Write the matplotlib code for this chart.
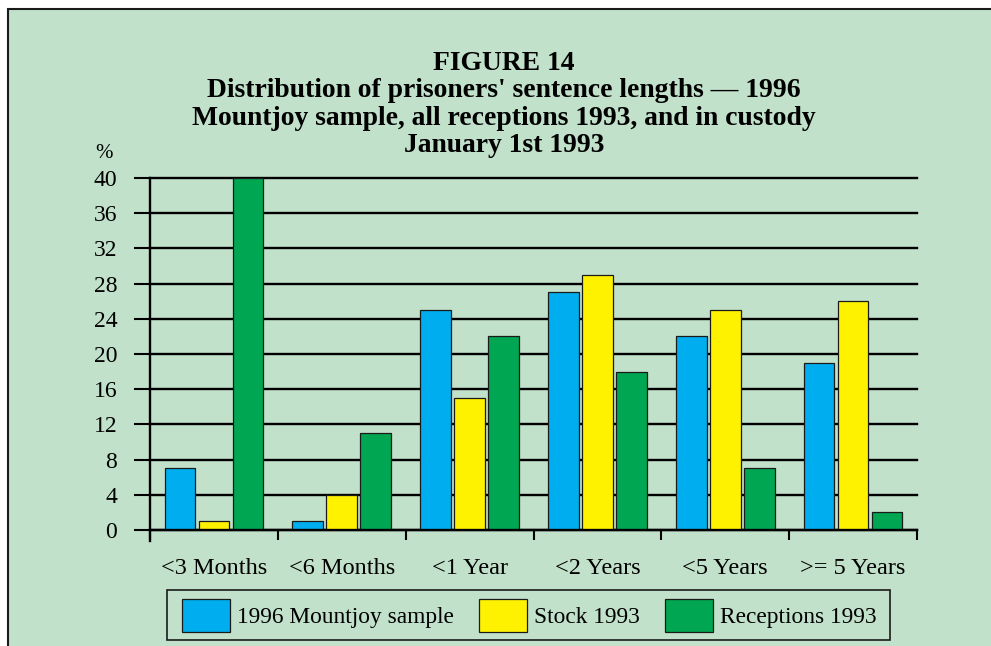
import numpy as np
import matplotlib
matplotlib.use("Agg")
import matplotlib.pyplot as plt
from matplotlib.patches import Rectangle

plt.rcParams['font.family'] = ['Liberation Serif', 'DejaVu Serif']

categories = ['<3 Months', '<6 Months', '<1 Year', '<2 Years', '<5 Years', '>= 5 Years']
mountjoy = [7.1, 1, 25, 27, 22, 19]
stock = [1, 4, 15, 29, 25, 26]
receptions = [40, 11, 22, 18, 7.1, 2]
series_names = ['1996 Mountjoy sample', 'Stock 1993', 'Receptions 1993']
yticks = [0, 4, 8, 12, 16, 20, 24, 28, 32, 36, 40]

bg = '#c1e1ca'
colors = ['#00aeef', '#fff200', '#00a651']

W, H = 991, 646
fig = plt.figure(figsize=(W / 100, H / 100), dpi=100, facecolor='white')

# green panel with dark border on top and left
panel = Rectangle((8 / W, -0.05), 1.1, 1 - 9 / H + 0.05, transform=fig.transFigure,
                  facecolor=bg, edgecolor='#1a1a1a', linewidth=1.5, zorder=-5)
fig.patches.append(panel)

ax = fig.add_axes([150 / W, 1 - 530 / H, (917 - 150) / W, (530 - 178) / H])
ax.set_facecolor('none')
ax.set_zorder(2)

ind = np.arange(len(categories)) + 0.5
width = 0.24
step = 0.266
for i, (vals, c, name) in enumerate(zip([mountjoy, stock, receptions], colors, series_names)):
    ax.bar(ind + (i - 1) * step, vals, width, color=c, edgecolor='#1a1a1a',
           linewidth=0.9, label=name, zorder=3)

ax.set_xlim(0, len(categories))
ax.set_ylim(0, 40)

ax.set_yticks(yticks)
ax.set_yticklabels([str(v) for v in yticks], fontsize=17)
ax.yaxis.grid(True, color='black', linewidth=1.7, zorder=1)
for gl in ax.get_ygridlines():
    gl.set_clip_on(False)
ax.set_axisbelow(True)
ax.tick_params(axis='y', length=11.5, width=1.5, pad=12, color='black')

ax.set_xticks(np.arange(len(categories) + 1))
ax.set_xticklabels([''] * (len(categories) + 1))
ax.tick_params(axis='x', which='major', length=7.5, width=1.5, direction='out')
ax.set_xticks(ind, minor=True)
ax.set_xticklabels(categories, minor=True, fontsize=17.5)
ax.tick_params(axis='x', which='minor', length=0, pad=20.5)

for s in ['top', 'right']:
    ax.spines[s].set_visible(False)
ax.spines['left'].set_linewidth(1.7)
ax.spines['bottom'].set_linewidth(1.7)
ax.spines['bottom'].set_zorder(4)
ax.spines['left'].set_bounds(-1.2, 40)

fig.text(103.5 / W, 1 - 154 / H, '%', fontsize=15, ha='center', va='center')

fig.text(504 / W, 1 - 104.5 / H,
         'FIGURE 14\nDistribution of prisoners\' sentence lengths \u2014 1996\n'
         'Mountjoy sample, all receptions 1993, and in custody\nJanuary 1st 1993',
         fontsize=19.9, fontweight='bold', ha='center', va='center', linespacing=1.12)

# legend frame drawn separately so the padding can differ horizontally / vertically
frame = Rectangle((167 / W, 1 - 640 / H), (890 - 167) / W, 50 / H, transform=fig.transFigure,
                  facecolor=bg, edgecolor='#1a1a1a', linewidth=1.2, zorder=1)
fig.patches.append(frame)
leg = fig.legend(loc='lower left', bbox_to_anchor=(182 / W, 1 - 632 / H, (877 - 182) / W, 33 / H),
                 mode='expand', ncol=3, fontsize=16.8, handlelength=2.06, handleheight=1.8,
                 handletextpad=0.3, borderpad=0, borderaxespad=0, frameon=False)
leg.set_zorder(3)

fig.savefig('out.png', dpi=100, facecolor='white')
